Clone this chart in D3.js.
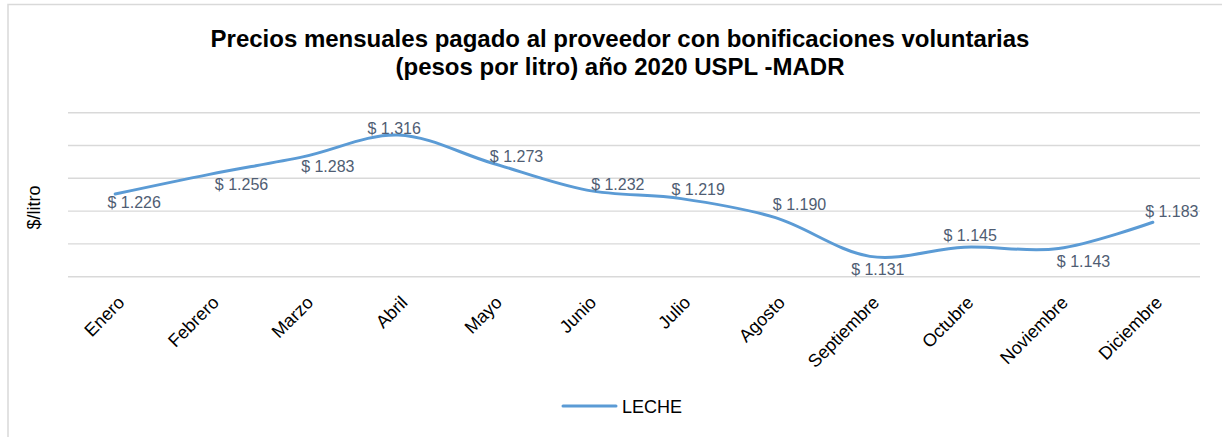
<!DOCTYPE html>
<html>
<head>
<meta charset="utf-8">
<script src="https://cdn.jsdelivr.net/npm/d3@7"></script>
<style>
   body { margin: 0; background: #fff; }
   svg { display: block; font-family: 'Liberation Sans', Arial, sans-serif; }
</style>
</head>
<body>
<div id="chart"></div>
<script>
const months = ['Enero', 'Febrero', 'Marzo', 'Abril', 'Mayo', 'Junio',
                'Julio', 'Agosto', 'Septiembre', 'Octubre', 'Noviembre', 'Diciembre'];
const leche = [1.226, 1.256, 1.283, 1.316, 1.273, 1.232,
               1.219, 1.190, 1.131, 1.145, 1.143, 1.183];
const gridTicks = [1.10, 1.15, 1.20, 1.25, 1.30, 1.35];
const seriesName = 'LECHE';
const titleLines = ['Precios mensuales pagado al proveedor con bonificaciones voluntarias',
                    '(pesos por litro) año 2020 USPL -MADR'];
const yTitle = '$/litro';

// label nudges (px) relative to each point, as placed in the original
const labelNudge = [[19, 8], [32, 10], [24, 10], [-4, -7], [24, -7], [31, -6],
                    [17, -9], [24, -13], [8, 13], [6, -12], [25, 13], [19, -11]];

const lineColor = '#5B9BD5';
const gridColor = '#D9D9D9';
const labelColor = '#4F5D73';

const width = 1222;
const height = 437;
const plot = {left: 68, right: 1200, top: 112.7, bottom: 276.7};

const svg = d3.select('#chart').append('svg')
   .attr('width', width)
   .attr('height', height);

// chart area border
svg.append('rect')
   .attr('x', 8)
   .attr('y', 4.5)
   .attr('width', width)
   .attr('height', height)
   .attr('fill', 'none')
   .attr('stroke', gridColor)
   .attr('stroke-width', 1.5);

svg.append('text')
   .attr('x', 620)
   .attr('y', 46.7)
   .attr('text-anchor', 'middle')
   .style('font-weight', 'bold')
   .style('font-size', '24px')
   .selectAll('tspan')
   .data(titleLines)
   .enter().append('tspan')
   .attr('x', 620)
   .attr('dy', (d, i) => i === 0 ? 0 : 28.5)
   .text(d => d);

let x = d3.scalePoint()
   .domain(months)
   .range([plot.left, plot.right])
   .padding(0.5);

let y = d3.scaleLinear()
   .domain([1.10, 1.35])
   .range([plot.bottom, plot.top]);

svg.append('g')
   .attr('class', 'grid')
   .selectAll('line')
   .data(gridTicks)
   .enter().append('line')
   .attr('x1', plot.left)
   .attr('x2', plot.right)
   .attr('y1', d => y(d))
   .attr('y2', d => y(d))
   .attr('stroke', gridColor)
   .attr('stroke-width', 1.4);

let xAxis = d3.axisBottom(x).tickSize(0).tickPadding(0);

svg.append('g')
   .attr('class', 'x axis')
   .attr('transform', `translate( 0, ${plot.bottom} )`)
   .call(xAxis)
   .call(g => g.select('.domain').remove())
   .selectAll('text')
   .attr('fill', '#000')
   .style('font-size', '18px')
   .style('font-family', "'Liberation Sans', Arial, sans-serif")
   .attr('text-anchor', 'end')
   .attr('dy', 0)
   .attr('y', 0)
   .attr('transform', 'translate( 10, 27 ) rotate(-45)');

svg.append('text')
   .attr('transform', 'translate( 40, 207.5 ) rotate(-90)')
   .attr('text-anchor', 'middle')
   .style('font-size', '18px')
   .text(yTitle);

let line = d3.line()
   .x((d, i) => x(months[i]))
   .y(d => y(d))
   .curve(d3.curveCatmullRom.alpha(0));

svg.append('path')
   .datum(leche)
   .attr('d', line)
   .attr('fill', 'none')
   .attr('stroke', lineColor)
   .attr('stroke-width', 3)
   .attr('stroke-linecap', 'round');

svg.append('g')
   .attr('class', 'labels')
   .selectAll('text')
   .data(leche)
   .enter().append('text')
   .attr('x', (d, i) => x(months[i]) + labelNudge[i][0])
   .attr('y', (d, i) => y(d) + labelNudge[i][1])
   .attr('dy', '.35em')
   .attr('text-anchor', 'middle')
   .attr('fill', labelColor)
   .style('font-size', '16px')
   .text(d => `$ ${d.toFixed(3)}`);

let legend = svg.append('g')
   .attr('class', 'legend')
   .attr('transform', 'translate( 563, 406 )');

legend.append('line')
   .attr('x1', 0)
   .attr('x2', 53)
   .attr('stroke', lineColor)
   .attr('stroke-width', 3)
   .attr('stroke-linecap', 'round');

legend.append('text')
   .attr('x', 59)
   .attr('y', 6.5)
   .style('font-size', '18px')
   .text(seriesName);
</script>
</body>
</html>
